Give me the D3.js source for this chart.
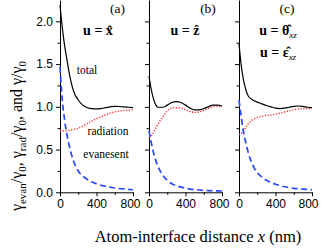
<!DOCTYPE html>
<html>
<head>
<meta charset="utf-8">
<script src="https://cdn.jsdelivr.net/npm/d3@7"></script>
<style>
  body { margin: 0; background: #fff; }
  svg { display: block; }
</style>
</head>
<body>
<svg id="chart" width="321" height="248"></svg>
<script>
// distancia atomo-interfaz (nm)
const dist = [0, 25, 50, 75, 100, 150, 200, 250, 300, 350, 400, 450, 500, 550, 600, 650, 700, 750, 800];

// panel (a) u = x
const totalA = [2.19, 1.93, 1.72, 1.56, 1.40, 1.18, 1.08, 1.02, 0.99, 0.978, 0.975, 0.98, 0.99, 1.0, 1.006, 1.004, 1.0, 0.995, 0.99];
const radA   = [0.72, 0.72, 0.72, 0.72, 0.725, 0.735, 0.75, 0.775, 0.805, 0.835, 0.86, 0.885, 0.905, 0.925, 0.94, 0.95, 0.958, 0.962, 0.965];
const evanA  = [1.47, 1.08, 0.85, 0.68, 0.55, 0.36, 0.25, 0.19, 0.15, 0.12, 0.10, 0.082, 0.07, 0.06, 0.05, 0.044, 0.039, 0.034, 0.03];

// panel (b) u = z
const totalB = [1.36, 1.20, 1.09, 1.02, 0.995, 0.995, 1.02, 1.05, 1.06, 1.05, 1.02, 0.985, 0.965, 0.965, 0.98, 1.0, 1.02, 1.02, 1.01];
const radB   = [0.64, 0.66, 0.70, 0.75, 0.80, 0.88, 0.95, 0.985, 0.99, 0.985, 0.965, 0.945, 0.935, 0.94, 0.96, 0.98, 1.0, 1.01, 1.0];
const evanB  = [0.72, 0.58, 0.46, 0.37, 0.30, 0.20, 0.14, 0.10, 0.077, 0.06, 0.048, 0.038, 0.032, 0.027, 0.023, 0.02, 0.018, 0.016, 0.015];

// panel (c) u = theta_xz / eps_xz
const totalC = [1.74, 1.48, 1.31, 1.20, 1.13, 1.08, 1.055, 1.035, 1.015, 1.0, 0.985, 0.98, 0.985, 0.995, 1.005, 1.01, 1.005, 0.995, 0.99];
const radC   = [0.67, 0.69, 0.72, 0.76, 0.80, 0.85, 0.875, 0.89, 0.90, 0.905, 0.915, 0.925, 0.94, 0.955, 0.965, 0.975, 0.98, 0.98, 0.98];
const evanC  = [1.08, 0.88, 0.70, 0.58, 0.47, 0.32, 0.23, 0.18, 0.14, 0.115, 0.095, 0.078, 0.065, 0.055, 0.047, 0.042, 0.037, 0.033, 0.03];

const panelLetters = ["(a)", "(b)", "(c)"];
const yMajor = [0, 0.5, 1.0, 1.5, 2.0];
const yMinor = [0.25, 0.75, 1.25, 1.75];
const xMajor = [0, 400, 800];
const xMinor = [200, 600];

const panels = [
  { letter: panelLetters[0], total: totalA, rad: radA, evan: evanA },
  { letter: panelLetters[1], total: totalB, rad: radB, evan: evanB },
  { letter: panelLetters[2], total: totalC, rad: radC, evan: evanC },
];

const svg = d3.select("#chart");
const SERIF = '"Liberation Serif"';
const SANS = '"Liberation Sans"';

const panelLeft = [60, 149, 239];
const panelW = 73;
const yTop = 0, yBottom = 192.3;

const y = d3.scaleLinear().domain([0, 2.25]).range([yBottom, yTop]);

panels.forEach((p, i) => {
  const x = d3.scaleLinear().domain([0, 800]).range([0, panelW]);
  const g = svg.append("g").attr("transform", `translate(${panelLeft[i]},0)`);

  const styleAxis = (sel) => {
    sel.attr("font-family", null).attr("font-size", null);
    sel.selectAll("path, line").attr("stroke", "#000").attr("stroke-width", 1);
    sel.selectAll("text").style("font-family", SANS).style("font-size", "12px").attr("fill", "#000");
  };

  g.append("g")
    .call(d3.axisLeft(y).tickValues(yMajor).tickSize(4).tickSizeOuter(0).tickPadding(3)
      .tickFormat(i === 0 ? d3.format(".1f") : ""))
    .call(styleAxis);
  g.append("g")
    .call(d3.axisLeft(y).tickValues(yMinor).tickSize(2.5).tickFormat(""))
    .call((s) => s.select(".domain").remove())
    .call(styleAxis);

  g.append("g")
    .attr("transform", `translate(0,${yBottom})`)
    .call(d3.axisBottom(x).tickValues(xMajor).tickSize(4).tickSizeOuter(0).tickPadding(3))
    .call(styleAxis)
    .call((s) => s.selectAll(".tick text").filter((d) => d === 800).attr("dx", i === 2 ? -4 : -3));
  g.append("g")
    .attr("transform", `translate(0,${yBottom})`)
    .call(d3.axisBottom(x).tickValues(xMinor).tickSize(2.5).tickFormat(""))
    .call((s) => s.select(".domain").remove())
    .call(styleAxis);

  const line = (vals) => d3.line()
    .x((d, k) => x(dist[k]))
    .y((d) => y(d))
    .curve(d3.curveMonotoneX)(vals);

  g.append("path").attr("d", line(p.rad)).attr("fill", "none")
    .attr("stroke", "#ff2a2a").attr("stroke-width", 1.4).attr("stroke-dasharray", "1.2,1.6");
  g.append("path").attr("d", line(p.evan)).attr("fill", "none")
    .attr("stroke", "#2a48ff").attr("stroke-width", 1.7).attr("stroke-dasharray", "6,3.5");
  g.append("path").attr("d", line(p.total)).attr("fill", "none")
    .attr("stroke", "#000").attr("stroke-width", 1.2);
});

// etiquetas de panel
const letterX = [117.5, 208, 287];
panels.forEach((p, i) => {
  svg.append("text").style("font-family", SERIF).attr("x", letterX[i]).attr("y", 13)
    .attr("text-anchor", "middle").style("font-size", "13.5px")
    .text(p.letter);
});

// polarizacion
const bold = (x0, y0) => svg.append("text").style("font-family", SERIF).attr("x", x0).attr("y", y0)
  .attr("text-anchor", "middle").style("font-size", "14px")
  .style("font-weight", "bold");

bold(98, 35).text("u = x\u0302");
bold(185, 35).text("u = z\u0302");
const tc = bold(278, 35);
tc.append("tspan").text("u = \u03b8\u0302");
tc.append("tspan").style("font-style", "italic").style("font-weight", "normal")
  .style("font-size", "9px").attr("dy", 3).text("xz");
const te = bold(278, 57);
te.append("tspan").text("u = \u03b5\u0302");
te.append("tspan").style("font-style", "italic").style("font-weight", "normal")
  .style("font-size", "9px").attr("dy", 3).text("xz");

// nombres de curvas
const lbl = (x0, y0, t) => svg.append("text").style("font-family", SERIF).attr("x", x0).attr("y", y0)
  .attr("text-anchor", "middle").style("font-size", "11.5px").text(t);
lbl(87, 74, "total");
lbl(108, 135, "radiation");
lbl(106, 158, "evanesent");

// titulo eje x
svg.append("text").style("font-family", SERIF).attr("x", 198).attr("y", 242)
  .attr("text-anchor", "middle").style("font-size", "16.5px")
  .call((t) => {
    t.append("tspan").text("Atom-interface distance ");
    t.append("tspan").style("font-style", "italic").text("x");
    t.append("tspan").text(" (nm)");
  });

// titulo eje y
const yt = svg.append("text").style("font-family", SERIF)
  .attr("transform", "translate(22,136) rotate(-90)")
  .attr("text-anchor", "middle").style("font-size", "16px");
const parts = [["\u03b3", "evan"], ["/\u03b3", "0"], [", \u03b3", "rad"], ["/\u03b3", "0"], [", and \u03b3/\u03b3", "0"]];
parts.forEach(([main, sub], k) => {
  yt.append("tspan").attr("dy", k === 0 ? 0 : -4).text(main);
  yt.append("tspan").style("font-size", "11px").attr("dy", 4).text(sub);
});
</script>
</body>
</html>
